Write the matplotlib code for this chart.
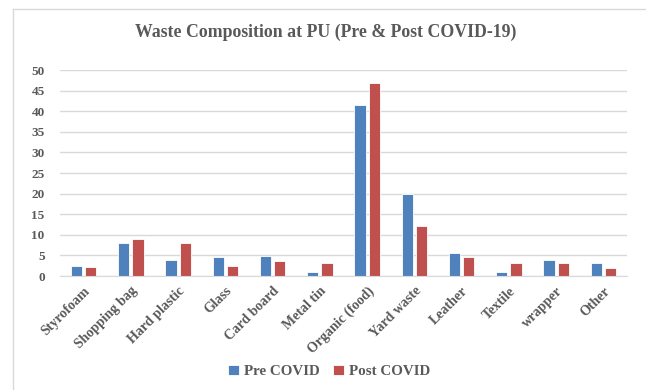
import matplotlib
matplotlib.use("Agg")
import matplotlib.pyplot as plt
from matplotlib.lines import Line2D
import numpy as np

categories = ["Styrofoam", "Shopping bag", "Hard plastic", "Glass", "Card board",
              "Metal tin", "Organic (food)", "Yard waste", "Leather", "Textile",
              "wrapper", "Other"]
pre_covid = [2.4, 7.9, 4.0, 4.5, 4.9, 1.0, 41.4, 19.9, 5.5, 1.0, 4.0, 3.1]
post_covid = [2.1, 9.0, 7.9, 2.4, 3.6, 3.1, 46.8, 12.1, 4.5, 3.1, 3.1, 1.9]
y_ticks = [0, 5, 10, 15, 20, 25, 30, 35, 40, 45, 50]

plt.rcParams['font.family'] = ['Liberation Serif', 'DejaVu Serif']
grey = '#595959'

fig = plt.figure(figsize=(6.46, 3.90), dpi=100)
ax = fig.add_axes([0.0929, 0.2923, 0.8777, 0.5282])

x = np.arange(len(categories))
w = 0.24
ax.bar(x - 0.15, pre_covid, w, color='#4F81BD', edgecolor='white', linewidth=0.6,
       label='Pre COVID', zorder=3)
ax.bar(x + 0.15, post_covid, w, color='#C0504D', edgecolor='white', linewidth=0.6,
       label='Post COVID', zorder=3)

ax.set_xlim(-0.5, len(categories) - 0.5)
ax.set_ylim(0, 50)
ax.set_yticks(y_ticks)
ax.set_yticklabels([str(t) for t in y_ticks], fontsize=9.5, color=grey, fontweight='bold')
ax.set_xticks(x)
ax.set_xticklabels(categories, rotation=45, ha='right', rotation_mode='anchor',
                   fontsize=10, color=grey, fontweight='bold')
ax.tick_params(axis='both', length=0)
ax.tick_params(axis='y', pad=11)
ax.tick_params(axis='x', pad=6)
ax.grid(axis='y', color='#D9D9D9', linewidth=1, zorder=0)
for s in ['top', 'right', 'left']:
    ax.spines[s].set_visible(False)
ax.spines['bottom'].set_color('#D9D9D9')
ax.spines['bottom'].set_zorder(4)

fig.text(0.504, 0.918, "Waste Composition at PU (Pre & Post COVID-19)", ha='center',
         va='center', fontsize=12.8, color=grey, fontweight='bold')

leg = ax.legend(loc='center', bbox_to_anchor=(0.51, 0.047), bbox_transform=fig.transFigure,
                ncol=2, frameon=False, fontsize=10.8, handlelength=0.7, handleheight=0.7,
                handletextpad=0.35, columnspacing=0.9)
for t in leg.get_texts():
    t.set_color(grey)
    t.set_fontweight('bold')

# light frame around the chart area
fig.add_artist(Line2D([13 / 646, 13 / 646], [0, 1 - 9 / 390], transform=fig.transFigure,
                      color='#D9D9D9', linewidth=1))
fig.add_artist(Line2D([13 / 646, 1], [1 - 9 / 390, 1 - 9 / 390], transform=fig.transFigure,
                      color='#D9D9D9', linewidth=1))

fig.savefig("out.png", dpi=100)
